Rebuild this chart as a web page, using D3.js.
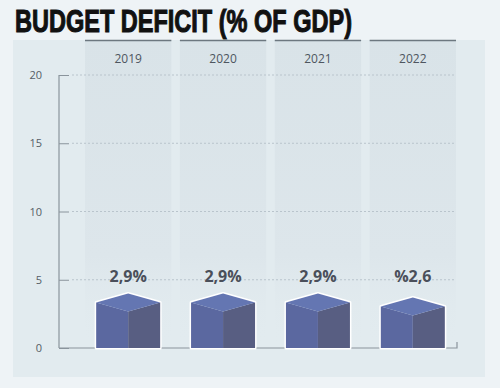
<!DOCTYPE html>
<html>
<head>
<meta charset="utf-8">
<script src="https://cdn.jsdelivr.net/npm/d3@7"></script>
<style>
  body { margin: 0; background: #eef3f6; }
  svg { display: block; }
  .tick text { font-family: "Open Sans", sans-serif; }
</style>
</head>
<body>
<div class="chart"></div>
<script>
var svgWidth = 500;
var svgHeight = 388;

// data
var years = ["2019", "2020", "2021", "2022"];
var deficit = [2.9, 2.9, 2.9, 2.6];
var valueLabels = ["2,9%", "2,9%", "2,9%", "%2,6"];
var yTicks = [0, 5, 10, 15, 20];

var svg = d3.select(".chart")
    .append("svg")
    .attr("width", svgWidth)
    .attr("height", svgHeight);

var defs = svg.append("defs");
var grad = defs.append("linearGradient")
    .attr("id", "bandFade")
    .attr("x1", 0).attr("x2", 0).attr("y1", 0).attr("y2", 1);
grad.append("stop").attr("offset", "0%").attr("stop-color", "#d9e3e8");
grad.append("stop").attr("offset", "70%").attr("stop-color", "#dde6eb");
grad.append("stop").attr("offset", "100%").attr("stop-color", "#e2ebef").attr("stop-opacity", 0);

// panel
svg.append("rect")
    .attr("x", 13).attr("y", 40)
    .attr("width", 472).attr("height", 337)
    .attr("fill", "#e2ebef");

// title
svg.append("text")
    .attr("x", 15)
    .attr("y", 32)
    .attr("font-family", "Liberation Sans Narrow, Arial Narrow, sans-serif")
    .attr("font-weight", "bold")
    .attr("font-size", 32)
    .attr("fill", "#111")
    .attr("stroke", "#111")
    .attr("stroke-width", 1.1)
    .attr("textLength", 337)
    .attr("lengthAdjust", "spacingAndGlyphs")
    .text("BUDGET DEFICIT (% OF GDP)");

var xScale = d3.scaleBand()
    .domain(years)
    .range([85, 456])
    .paddingInner(0.09)
    .paddingOuter(0);

var yScale = d3.scaleLinear()
    .domain([0, 20])
    .range([348, 75]);

// column bands
var bands = svg.append("g");
bands.selectAll("rect")
    .data(years)
    .enter()
    .append("rect")
    .attr("x", d => xScale(d))
    .attr("y", 40)
    .attr("width", xScale.bandwidth())
    .attr("height", yScale(0) - 40)
    .attr("fill", "url(#bandFade)");

bands.selectAll("line")
    .data(years)
    .enter()
    .append("line")
    .attr("x1", d => xScale(d))
    .attr("x2", d => xScale(d) + xScale.bandwidth())
    .attr("y1", 40.5).attr("y2", 40.5)
    .attr("stroke", "#6d7880")
    .attr("stroke-width", 1.5);

bands.selectAll("text")
    .data(years)
    .enter()
    .append("text")
    .attr("x", d => xScale(d) + xScale.bandwidth() / 2)
    .attr("y", 63)
    .attr("text-anchor", "middle")
    .attr("font-family", "Open Sans, sans-serif")
    .attr("font-size", 12)
    .attr("fill", "#4e5660")
    .text(d => d);

// dotted gridlines
svg.append("g")
    .selectAll("line")
    .data(yTicks.filter(d => d > 0))
    .enter()
    .append("line")
    .attr("x1", 72).attr("x2", 456)
    .attr("y1", d => yScale(d)).attr("y2", d => yScale(d))
    .attr("stroke", "#b9c4cc")
    .attr("stroke-width", 1)
    .attr("stroke-dasharray", "2,2");

// y axis
var leftAxis = d3.axisLeft(yScale)
    .tickValues(yTicks)
    .tickSize(-10)
    .tickPadding(17);

var yAxis = svg.append("g")
    .attr("transform", "translate(59,0)")
    .call(leftAxis);
yAxis.select(".domain").remove();
yAxis.selectAll(".tick line").attr("stroke", "#8a949c");
yAxis.selectAll(".tick text")
    .attr("fill", "#555d66")
    .attr("font-size", 11);

svg.append("line")
    .attr("x1", 59).attr("x2", 59)
    .attr("y1", yScale(20)).attr("y2", yScale(0))
    .attr("stroke", "#8a949c")
    .attr("stroke-width", 1.2);

// baseline
svg.append("path")
    .attr("d", `M59,${yScale(0)}H457V${yScale(0) - 6}`)
    .attr("fill", "none")
    .attr("stroke", "#8a949c")
    .attr("stroke-width", 1.2);

// cubes
var barW = 64;
var depth = 9;
var cubes = svg.append("g").selectAll("g")
    .data(years.map((y, i) => ({year: y, value: deficit[i], label: valueLabels[i]})))
    .enter()
    .append("g");

function cubeParts(d) {
    var cx = xScale(d.year) + xScale.bandwidth() / 2;
    var l = cx - barW / 2, r = cx + barW / 2;
    var front = yScale(d.value) + 3;
    var side = front - depth;
    var back = front - 2 * depth;
    var base = yScale(0);
    return {cx, l, r, front, side, back, base};
}

// white outline
cubes.append("path")
    .attr("d", d => {
        var p = cubeParts(d);
        return `M${p.l},${p.base}V${p.side}L${p.cx},${p.back}L${p.r},${p.side}V${p.base}Z`;
    })
    .attr("fill", "none")
    .attr("stroke", "#ffffff")
    .attr("stroke-width", 3)
    .attr("stroke-linejoin", "round");

cubes.append("path")
    .attr("d", d => {
        var p = cubeParts(d);
        return `M${p.l},${p.base}V${p.side}L${p.cx},${p.front}V${p.base}Z`;
    })
    .attr("fill", "#5b68a0");

cubes.append("path")
    .attr("d", d => {
        var p = cubeParts(d);
        return `M${p.cx},${p.base}V${p.front}L${p.r},${p.side}V${p.base}Z`;
    })
    .attr("fill", "#585e82");

cubes.append("path")
    .attr("d", d => {
        var p = cubeParts(d);
        return `M${p.l},${p.side}L${p.cx},${p.back}L${p.r},${p.side}L${p.cx},${p.front}Z`;
    })
    .attr("fill", "#6476b2");

// value labels
cubes.append("text")
    .attr("x", d => cubeParts(d).cx)
    .attr("y", yScale(5) + 2)
    .attr("text-anchor", "middle")
    .attr("font-family", "Open Sans, sans-serif")
    .attr("font-weight", "bold")
    .attr("font-size", 16)
    .attr("fill", "#4a4f5a")
    .text(d => d.label);
</script>
</body>
</html>
